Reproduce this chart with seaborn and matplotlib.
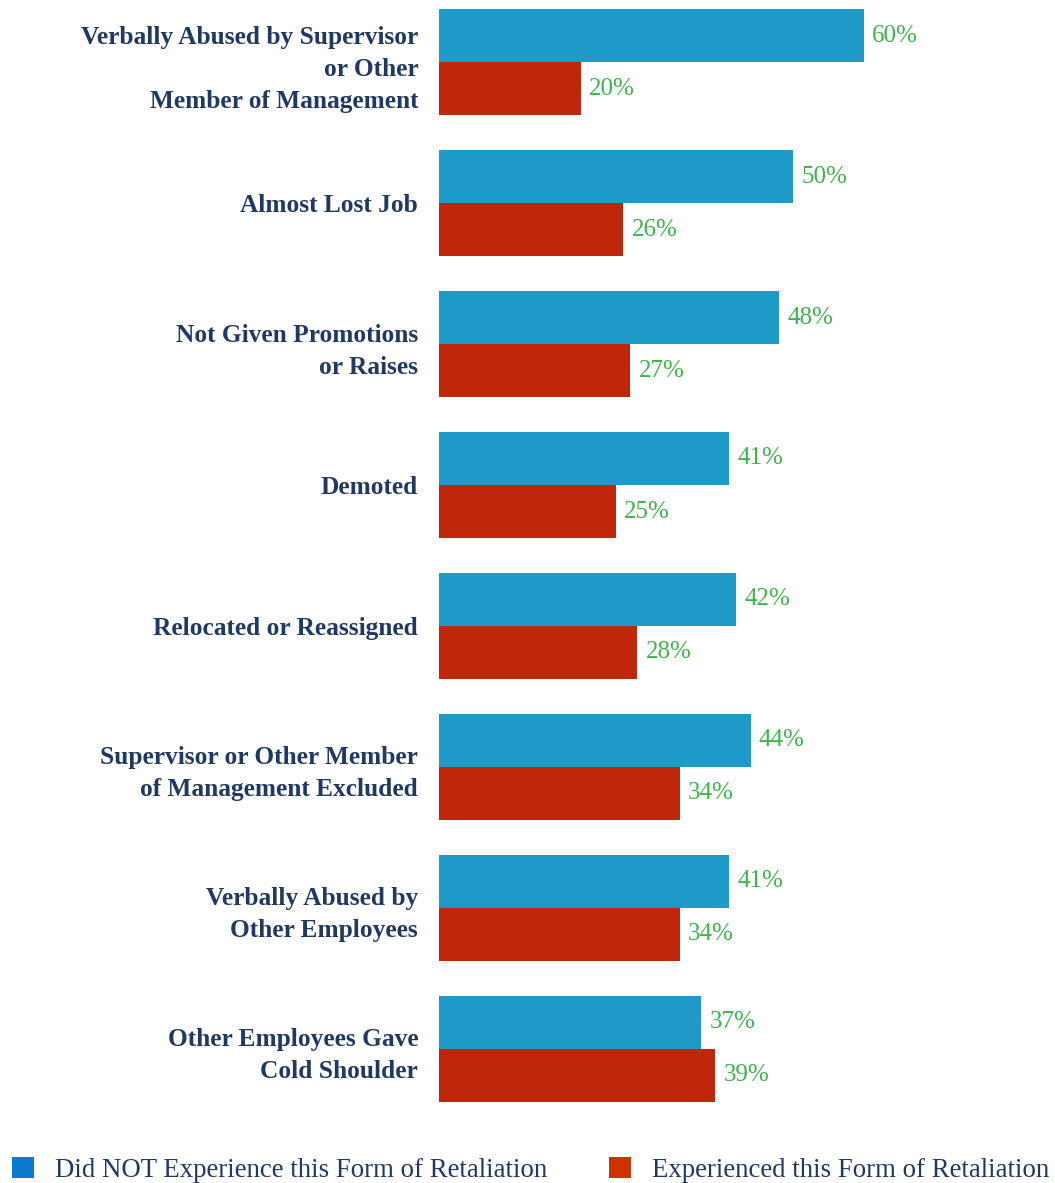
import matplotlib
matplotlib.use("Agg")
import matplotlib.pyplot as plt
from matplotlib.patches import Patch
import seaborn as sns
import pandas as pd

categories = [
    "Verbally Abused by Supervisor\nor Other\nMember of Management",
    "Almost Lost Job",
    "Not Given Promotions\nor Raises",
    "Demoted",
    "Relocated or Reassigned",
    "Supervisor or Other Member\nof Management Excluded",
    "Verbally Abused by\nOther Employees",
    "Other Employees Gave\nCold Shoulder",
]
series = ["Did NOT Experience this Form of Retaliation",
          "Experienced this Form of Retaliation"]
did_not = [60, 50, 48, 41, 42, 44, 41, 37]
experienced = [20, 26, 27, 25, 28, 34, 34, 39]

bar_colors = ["#1e9ac8", "#c0270a"]
legend_colors = ["#0a7bd0", "#cc3300"]
navy = "#1f3864"
green = "#3cb54a"

df = pd.DataFrame({
    "category": categories * 2,
    "series": [series[0]] * len(categories) + [series[1]] * len(categories),
    "value": did_not + experienced,
})

sns.set_theme(style="white")
plt.rcParams["font.family"] = ["Liberation Serif", "DejaVu Serif"]

W, H = 1055, 1183
fig = plt.figure(figsize=(W / 100, H / 100), dpi=100)
ax = fig.add_axes([439 / W, 1 - 1120 / H, 610 / W, 1120 / H])

sns.barplot(data=df, y="category", x="value", hue="series", order=categories,
            hue_order=series, palette=bar_colors, orient="h", width=0.752,
            dodge=True, saturation=1, edgecolor="none", legend=False, ax=ax)

for cont in ax.containers:
    ax.bar_label(cont, fmt="%d%%", padding=6, color=green, fontsize=18)

ax.set_xlim(0, 610 / 7.08)
ax.set_ylim(7.504, -0.44)
ax.set_xlabel("")
ax.set_ylabel("")
ax.set_xticks([])
ax.tick_params(axis="y", length=0, pad=15)
for lab in ax.get_yticklabels():
    lab.set_fontweight("bold")
    lab.set_fontsize(18.3)
    lab.set_color(navy)
    lab.set_multialignment("right")
    lab.set_linespacing(1.5)
sns.despine(ax=ax, left=True, bottom=True)

handles = [Patch(facecolor=c, edgecolor="none") for c in legend_colors]
leg = fig.legend(handles, series, loc="lower left", bbox_to_anchor=(12 / W, 0.0),
                 ncol=2, frameon=False, fontsize=19.3, handlelength=0.82,
                 handleheight=0.82, handletextpad=0.78, columnspacing=2.3,
                 labelcolor=navy, borderpad=0.0, borderaxespad=0.0)

fig.savefig("out.png", dpi=100)
